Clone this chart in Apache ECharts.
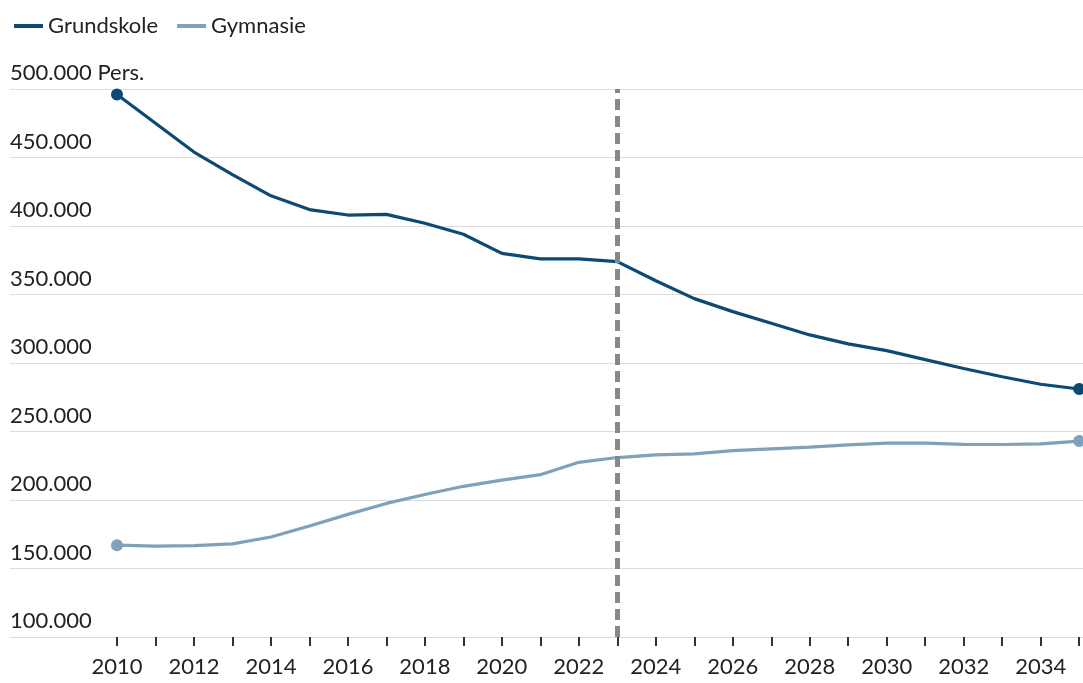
<!DOCTYPE html>
<html>
<head>
<meta charset="utf-8">
<script src="https://cdn.jsdelivr.net/npm/echarts@6/dist/echarts.min.js"></script>
<style>
  html, body { margin: 0; padding: 0; background: #fff; }
  #chart { width: 1083px; height: 683px; }
</style>
</head>
<body>
<div id="chart"></div>
<script>
// Elever pr. år: grundskole og gymnasie, 2010–2035
const years = [2010, 2011, 2012, 2013, 2014, 2015, 2016, 2017, 2018, 2019, 2020, 2021, 2022,
               2023, 2024, 2025, 2026, 2027, 2028, 2029, 2030, 2031, 2032, 2033, 2034, 2035];
const grundskole = [496000, 475000, 454000, 437500, 422000, 412000, 408000, 408500, 402000, 394000,
                    380000, 376000, 376000, 374000, 360000, 347000, 337500, 329000, 320500, 314000,
                    309000, 302500, 296000, 290000, 284500, 281000];
const gymnasie = [167000, 166300, 166700, 168000, 173000, 181000, 189500, 197500, 204000, 210000,
                  214500, 218500, 227500, 231000, 233000, 233600, 236000, 237300, 238600, 240300,
                  241500, 241500, 240600, 240500, 241000, 243000];
const labelYears = [2010, 2012, 2014, 2016, 2018, 2020, 2022, 2024, 2026, 2028, 2030, 2032, 2034];
const forecastStart = 2023;

const FONT = 'Lato';
const fmt = v => String(v).replace(/\B(?=(\d{3})+(?!\d))/g, '.');

const pairs = arr => years.map((y, i) => [y, arr[i]]);
const endDots = (val, params) =>
  (params.dataIndex === 0 || params.dataIndex === years.length - 1) ? 12 : 0;

const chart = echarts.init(document.getElementById('chart'), null, { renderer: 'canvas' });
chart.setOption({
  animation: false,
  backgroundColor: '#ffffff',
  textStyle: { fontFamily: FONT },
  legend: {
    left: 9, top: 10,
    itemWidth: 29, itemHeight: 4, itemGap: 19,
    icon: 'rect',
    textStyle: { fontFamily: FONT, fontSize: 22, color: '#222' },
    data: ['Grundskole', 'Gymnasie']
  },
  grid: { left: 10, right: 0, top: 89, bottom: 46, containLabel: false },
  xAxis: {
    type: 'value',
    min: 2007.22, max: 2035.1,
    axisLine: { show: true, lineStyle: { color: '#dddddd', width: 1 } },
    axisTick: {
      show: true, length: 9, customValues: years,
      lineStyle: { color: '#333', width: 2 }
    },
    axisLabel: {
      customValues: labelYears, margin: 19,
      fontFamily: FONT, fontSize: 22, color: '#222',
      formatter: v => String(v)
    },
    splitLine: { show: false }
  },
  yAxis: {
    type: 'value',
    min: 100000, max: 500000, interval: 50000,
    axisLine: { show: false },
    axisTick: { show: false },
    axisLabel: {
      inside: true, margin: 0,
      align: 'left', verticalAlign: 'bottom',
      padding: [0, 0, 5, 0],
      fontFamily: FONT, fontSize: 22, color: '#222',
      formatter: v => v === 500000 ? fmt(v) + ' Pers.' : fmt(v)
    },
    splitLine: { show: true, lineStyle: { color: '#dddddd', width: 1 } }
  },
  series: [
    {
      name: 'Grundskole',
      type: 'line',
      data: pairs(grundskole),
      color: '#0c4a73',
      lineStyle: { width: 3.2, color: '#0c4a73' },
      symbol: 'circle', symbolSize: endDots, showSymbol: true, showAllSymbol: true,
      itemStyle: { color: '#0c4a73' },
      clip: false,
      z: 3,
      markLine: {
        silent: true, symbol: 'none',
        label: { show: false },
        lineStyle: { type: [11, 6], color: '#888888', width: 5 },
        data: [{ xAxis: forecastStart }]
      }
    },
    {
      name: 'Gymnasie',
      type: 'line',
      data: pairs(gymnasie),
      color: '#7fa2ba',
      lineStyle: { width: 3.2, color: '#7fa2ba' },
      symbol: 'circle', symbolSize: endDots, showSymbol: true, showAllSymbol: true,
      itemStyle: { color: '#7fa2ba' },
      clip: false,
      z: 3
    }
  ]
});
</script>
</body>
</html>
